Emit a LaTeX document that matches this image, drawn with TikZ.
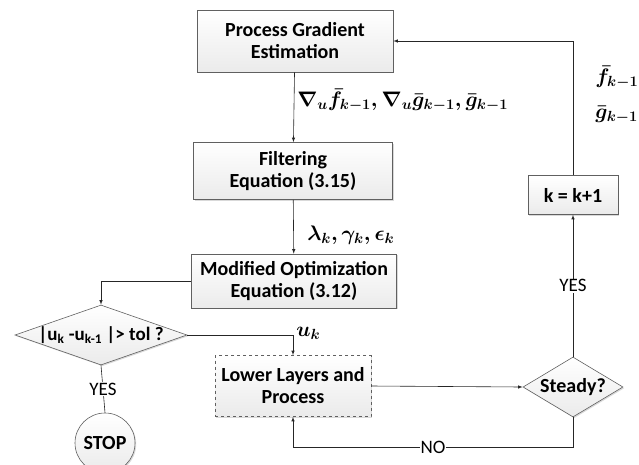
\RequirePackage{fix-cm}
\documentclass[tikz,border=0pt]{standalone}
\usepackage{amsmath,bm}
\usepackage{fontspec}
\setmainfont{Carlito}
\usetikzlibrary{shapes.geometric, arrows, shadows}
\tikzstyle{arrow} = [->,>=latex]

\begin{document}
\begin{tikzpicture}[x=1pt,y=-1pt,line width=0.6pt,
  block/.style={draw=gray!75!black,shading=axis,top color=white,bottom color=gray!16,
    drop shadow={opacity=0.3,shadow xshift=1.2pt,shadow yshift=-1.2pt},
    align=center,font=\fontsize{20}{22}\selectfont\bfseries,inner sep=2pt},
  decide/.style={block,diamond,inner sep=0pt},
  wire/.style={draw=gray!30!black},
  tag/.style={font=\fontsize{19}{21}\selectfont,fill=white,inner sep=1pt},
  sig/.style={anchor=west,inner sep=1pt,font=\fontsize{21}{24}\selectfont\boldmath}]
\clip (0,0) rectangle (639,464);
\node[block,minimum width=196,minimum height=62] (grad) at (295,41) {Process Gradient\\Estimation};
\node[block,minimum width=199,minimum height=57] (filt) at (293,171) {Filtering\\Equation (3.15)};
\node[block,minimum width=205,minimum height=54] (opt) at (294,281) {Modified Optimization\\Equation (3.12)};
\node[decide,minimum width=172,minimum height=60,
  label={[font=\fontsize{19}{21}\selectfont\bfseries]center:|u\textsubscript{k} -u\textsubscript{k-1} |> tol ?}] (tol) at (101,335) {};
\node[block,circle,minimum size=60,inner sep=0pt] (stop) at (105,443) {STOP};
\node[block,dashed,minimum width=156,minimum height=61] (plant) at (293,386) {Lower Layers and\\Process};
\node[decide,minimum width=100,minimum height=60,
  label={[font=\fontsize{20}{22}\selectfont\bfseries]center:Steady?}] (steady) at (573,387) {};
\node[block,minimum width=90,minimum height=39] (incr) at (573,195) {k = k+1};
\coordinate (back) at (573,447);
% signals
\node[sig] (sig1) at (296,100) {$\nabla_{\bm u} \bar{f}_{k-1}, \nabla_{\bm u} \bar{g}_{k-1}, \bar{g}_{k-1}$};
\node[sig] (sig2) at (306,235) {$\lambda_k, \gamma_k, \epsilon_k$};
\node[sig] (sig3) at (295,333) {$u_k$};
\node[sig] (sig4) at (594,77) {$\bar{f}_{k-1},$};
\node[sig] (sig5) at (594,115) {$\bar{g}_{k-1}$};
% connectors
\draw[arrow,wire] (grad) -- (filt);
\draw[arrow,wire] (filt) -- (opt);
\draw[arrow,wire] (opt.west) -| (tol.north);
\draw[wire] (tol.south) -- node[tag]{YES} (stop.north);
\draw[arrow,wire] (tol.east) -| (plant.north);
\draw[arrow,wire] (plant.east) -- (steady.west);
\draw[arrow,wire] (steady.south) -- (back) -| node[tag,pos=0.25]{NO} (plant.south);
\draw[arrow,wire] (steady.north) -- node[tag]{YES} (incr.south);
\draw[arrow,wire] (incr.north) |- (grad.east);
\end{tikzpicture}
\end{document}
